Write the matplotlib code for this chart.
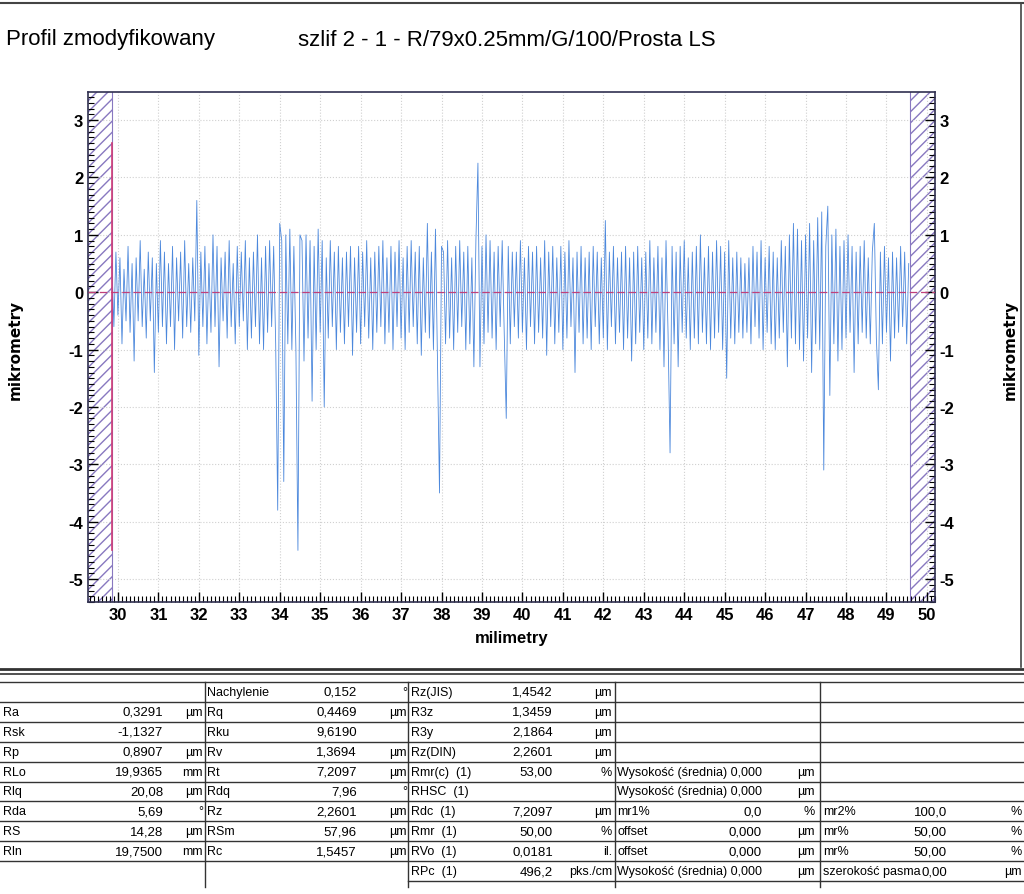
import numpy as np
import matplotlib
matplotlib.use("Agg")
import matplotlib.pyplot as plt
from matplotlib.ticker import MultipleLocator

plt.rcParams['font.family'] = ['Liberation Sans', 'DejaVu Sans']
plt.rcParams['axes.unicode_minus'] = False

x_start = 29.85
x_step = 0.05
profile = [
 0.5,-0.6,0.7,-0.4,0.6,-0.9,0.4,-0.5,0.8,-0.7,0.5,-1.2,0.6,-0.5,0.9,-0.6,0.4,-0.8,0.7,-0.5,
 0.6,-1.4,0.5,-0.7,0.9,-0.6,0.7,-0.9,0.5,-0.6,0.8,-1.0,0.6,-0.5,0.7,-0.8,0.9,-0.6,0.5,-0.7,
 0.6,-0.5,1.6,-1.1,0.7,-0.6,0.8,-0.9,0.5,-0.7,1.0,-0.6,0.8,-1.3,0.6,-0.5,0.7,-0.8,0.9,-0.6,
 0.5,-0.9,0.8,-0.6,0.7,-0.5,0.9,-1.0,0.6,-0.8,0.7,-0.6,1.0,-0.9,0.6,-1.0,0.8,-0.7,0.9,-0.6,
 0.8,-0.9,-3.8,1.2,0.9,-3.3,1.0,-0.9,1.1,-1.0,0.8,-1.0,-4.5,1.0,0.9,-1.2,1.0,-0.8,0.9,-1.9,
 0.8,-1.0,1.1,-0.7,0.9,-2.0,0.6,-0.8,0.9,-0.6,0.7,-1.0,0.8,-0.7,0.6,-0.9,0.7,-0.6,0.8,-1.1,
 0.6,-0.7,0.8,-0.9,0.7,-0.6,0.9,-0.8,0.6,-1.0,0.7,-0.7,0.8,-0.6,0.9,-0.9,0.6,-0.7,0.8,-1.0,
 0.7,-0.6,0.9,-0.8,0.6,-1.0,0.8,-0.7,0.9,-0.6,0.7,-0.9,0.8,-1.1,0.6,-0.7,1.2,-0.8,0.7,-1.0,
 1.1,-1.2,-3.5,0.8,0.7,-0.9,0.9,-0.8,0.6,-1.0,0.8,-0.7,0.9,-0.6,0.7,-1.0,0.8,-0.9,0.6,-1.3,
 0.9,2.25,-1.3,0.8,-0.9,1.0,-0.7,0.9,-0.8,0.7,-1.0,0.8,-0.6,0.9,-0.7,-2.2,0.8,-0.9,0.7,-0.6,
 0.7,-0.8,0.9,-0.7,0.6,-1.0,0.8,-0.6,0.7,-0.9,0.8,-0.7,0.6,-0.8,0.9,-1.1,0.7,-0.6,0.8,-0.9,
 0.6,-0.7,0.8,-1.0,0.7,-0.8,0.9,-0.6,0.6,-1.4,0.7,-0.7,0.8,-0.9,0.6,-0.8,0.7,-1.0,0.8,-0.6,
 0.7,-0.9,0.6,-0.8,1.25,-1.0,0.7,-0.6,0.8,-0.9,0.6,-0.7,0.7,-1.0,0.8,-0.8,0.6,-1.2,0.7,-0.9,
 0.8,-0.7,0.6,-1.0,0.7,-0.8,0.9,-0.9,0.6,-0.7,0.8,-1.0,0.6,-1.3,0.9,-0.7,-2.8,0.8,-0.9,0.7,
 -1.3,0.8,-0.7,0.9,-0.8,0.6,-1.0,0.7,-0.8,0.8,-0.9,1.0,-0.7,0.6,-0.9,0.8,-1.0,0.7,-0.8,0.9,
 -0.7,0.8,-1.0,0.7,-1.5,0.9,-0.8,0.6,-0.9,0.7,-0.7,0.6,-0.8,0.5,-0.7,0.6,-0.9,0.8,-0.6,0.7,
 -0.8,0.9,-1.0,0.6,-0.7,0.8,-0.9,0.7,-1.0,0.6,-0.8,0.9,-0.7,0.8,-1.3,1.0,-0.8,1.2,-0.9,1.1,
 -1.0,0.9,-1.2,1.0,-0.8,1.2,-1.4,0.9,-0.9,1.3,-1.0,1.4,-3.1,0.8,1.5,-1.8,1.0,-0.9,1.1,-1.2,
 0.8,-1.0,0.9,-0.8,1.0,-0.7,0.8,-1.4,0.7,-0.9,0.8,-0.7,0.9,-0.8,0.6,-0.9,0.7,1.2,-0.8,-1.7,
 0.7,-0.9,0.8,-0.7,0.6,-1.2,0.7,-0.8,0.6,-0.7,0.8,-0.6,0.7,-0.9,0.5,
]
x_ticks = list(range(30, 51))
y_ticks = [-5, -4, -3, -2, -1, 0, 1, 2, 3]

title_left = "Profil zmodyfikowany"
title_right = "szlif 2 - 1 - R/79x0.25mm/G/100/Prosta LS"

table_rows = [
 ["", "", "", "Nachylenie", "0,152", "°", "Rz(JIS)", "1,4542", "µm", "", "", "", "", "", ""],
 ["Ra", "0,3291", "µm", "Rq", "0,4469", "µm", "R3z", "1,3459", "µm", "", "", "", "", "", ""],
 ["Rsk", "-1,1327", "", "Rku", "9,6190", "", "R3y", "2,1864", "µm", "", "", "", "", "", ""],
 ["Rp", "0,8907", "µm", "Rv", "1,3694", "µm", "Rz(DIN)", "2,2601", "µm", "", "", "", "", "", ""],
 ["RLo", "19,9365", "mm", "Rt", "7,2097", "µm", "Rmr(c)  (1)", "53,00", "%", "Wysokość (średnia) 0,000", "", "µm", "", "", ""],
 ["Rlq", "20,08", "µm", "Rdq", "7,96", "°", "RHSC  (1)", "", "", "Wysokość (średnia) 0,000", "", "µm", "", "", ""],
 ["Rda", "5,69", "°", "Rz", "2,2601", "µm", "Rdc  (1)", "7,2097", "µm", "mr1%", "0,0", "%", "mr2%", "100,0", "%"],
 ["RS", "14,28", "µm", "RSm", "57,96", "µm", "Rmr  (1)", "50,00", "%", "offset", "0,000", "µm", "mr%", "50,00", "%"],
 ["Rln", "19,7500", "mm", "Rc", "1,5457", "µm", "RVo  (1)", "0,0181", "il.", "offset", "0,000", "µm", "mr%", "50,00", "%"],
 ["", "", "", "", "", "", "RPc  (1)", "496,2", "pks./cm", "Wysokość (średnia) 0,000", "", "µm", "szerokość pasma", "0,00", "µm"],
]

W, H = 1024, 895
fig = plt.figure(figsize=(W/100, H/100), dpi=100)
fx = lambda px: px / W
fy = lambda py: 1 - py / H

ax = fig.add_axes([fx(88), fy(603), fx(935) - fx(88), fy(93) - fy(603)])
xv = x_start + x_step * np.arange(len(profile))
ax.plot(xv, profile, color='#4c88dc', lw=0.6, zorder=3)
ax.axhline(0, color='#c0407a', lw=0.9, ls=(0, (6, 3)), zorder=4)
ax.plot([x_start, x_start], [-4.5, 2.6], color='#d03c78', lw=1.2, zorder=4)
ax.axvspan(29.26, 29.85, facecolor='none', edgecolor='#8878c0', hatch='///', lw=0)
ax.axvspan(49.58, 50.2, facecolor='none', edgecolor='#8878c0', hatch='///', lw=0)
ax.axvline(29.85, color='#8878c0', lw=0.8)
ax.axvline(49.58, color='#8878c0', lw=0.8)
ax.set_xlim(29.26, 50.2)
ax.set_ylim(-5.4, 3.49)
ax.set_xticks(x_ticks)
ax.set_yticks(y_ticks)
ax.xaxis.set_minor_locator(MultipleLocator(0.1))
ax.yaxis.set_minor_locator(MultipleLocator(0.1))
ax.grid(True, color='#d0d0d0', ls=':', lw=0.8)
ax.tick_params(axis='both', which='major', direction='in', length=7, labelsize=12, width=1)
ax.tick_params(axis='both', which='minor', direction='in', length=4, width=0.8)
ax.tick_params(axis='y', right=True, labelright=True, which='both')
ax.tick_params(axis='x', top=False, which='both')
for lab in ax.get_xticklabels() + ax.get_yticklabels():
    lab.set_fontweight('bold')
for lab in ax.yaxis.get_majorticklabels():
    lab.set_fontweight('bold')
for s in ax.spines.values():
    s.set_color('#303050'); s.set_linewidth(1.2)
ax.set_xlabel("milimetry", fontsize=12, fontweight='bold', labelpad=6)

fig.text(fx(15), fy(350), "mikrometry", rotation=90, ha='center', va='center', fontsize=11, fontweight='bold', family=['DejaVu Sans'])
fig.text(fx(1010), fy(350), "mikrometry", rotation=90, ha='center', va='center', fontsize=11, fontweight='bold', family=['DejaVu Sans'])
fig.text(fx(6), fy(40), title_left, fontsize=16, va='center', ha='left')
fig.text(fx(298), fy(40), title_right, fontsize=16, va='center', ha='left')

# frame lines
fig.add_artist(plt.Line2D([0, 1], [fy(4), fy(4)], color='#444', lw=1.5))
fig.add_artist(plt.Line2D([fx(1021), fx(1021)], [fy(4), fy(668)], color='#444', lw=1.2))
fig.add_artist(plt.Line2D([0, 1], [fy(670), fy(670)], color='#333', lw=2))
fig.add_artist(plt.Line2D([0, 1], [fy(675), fy(675)], color='#333', lw=1.2))

# table
row_top = 683
rh = 19.9
for i in range(len(table_rows) + 1):
    y = row_top + i * rh
    x0 = 0 if i < len(table_rows) else 408
    fig.add_artist(plt.Line2D([fx(x0), 1], [fy(y), fy(y)], color='#333', lw=1))
for xc in [205, 408, 615, 820]:
    fig.add_artist(plt.Line2D([fx(xc), fx(xc)], [fy(683), fy(888)], color='#333', lw=1))

cols = [(3, 163, 203), (207, 357, 407), (411, 553, 612), (617, 762, 815), (823, 947, 1022)]
for r, row in enumerate(table_rows):
    yc = fy(row_top + r * rh + rh / 2)
    for c, (lx, vx, ux) in enumerate(cols):
        lab, val, unit = row[3*c:3*c+3]
        if lab:
            fig.text(fx(lx), yc, lab, fontsize=9, ha='left', va='center')
        if val:
            fig.text(fx(vx), yc, val, fontsize=9.5, ha='right', va='center')
        if unit:
            fig.text(fx(ux), yc, unit, fontsize=9, ha='right', va='center')

fig.savefig("out.png", dpi=100)
